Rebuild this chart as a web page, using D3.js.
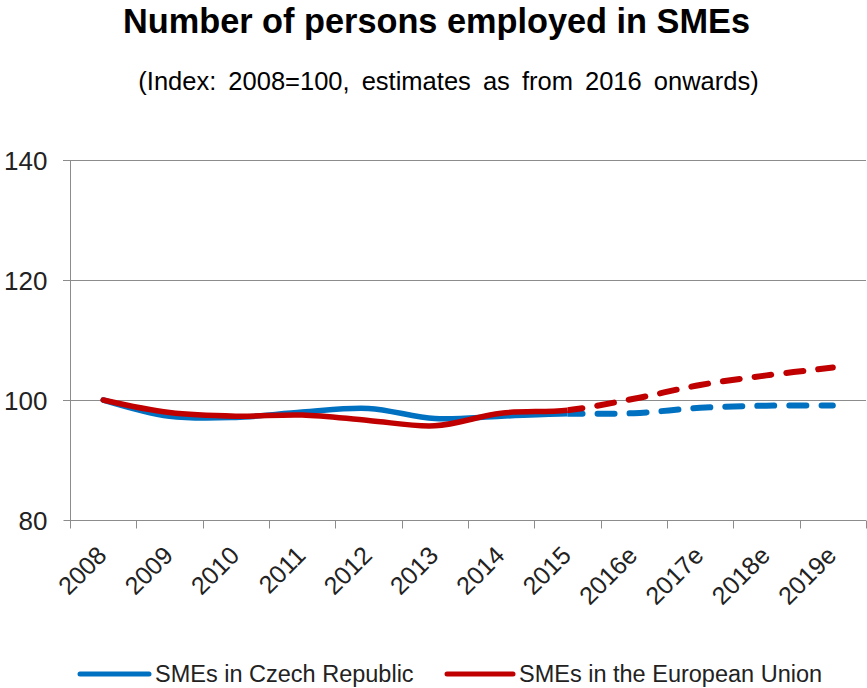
<!DOCTYPE html>
<html>
<head>
<meta charset="utf-8">
<script src="https://cdn.jsdelivr.net/npm/d3@7"></script>
<style>
  html, body { margin: 0; padding: 0; background: #fff; }
  svg { display: block; font-family: "Liberation Sans", Arial, sans-serif; }
</style>
</head>
<body>
<svg id="chart" width="867" height="688"></svg>
<script>
const categories = ["2008","2009","2010","2011","2012","2013","2014","2015","2016e","2017e","2018e","2019e"];
const czechValues = [100, 97.3, 97.1, 98.0, 98.6, 96.9, 97.3, 97.7, 97.8, 98.7, 99.05, 99.1];
const euValues    = [100, 97.9, 97.3, 97.5, 96.6, 95.7, 97.8, 98.3, 100.2, 102.5, 104.1, 105.4];
const yTicks = [80, 100, 120, 140];
const seriesNames = ["SMEs in Czech Republic", "SMEs in the European Union"];
const seriesColors = ["#0070C0", "#C00000"];
const lastActual = "2015";

(function () {
const svg = d3.select("#chart");
const pLeft = 70, pRight = 866, pTop = 160, pBottom = 520;

const x = d3.scaleBand().domain(categories).range([pLeft, pRight]).padding(0);
const y = d3.scaleLinear().domain([80, 140]).range([pBottom, pTop]);
const cx = c => x(c) + x.bandwidth() / 2;

// Title
svg.append("text").attr("x", 436.5).attr("y", 33).attr("text-anchor", "middle")
  .attr("font-size", 34.3).attr("font-weight", "bold").attr("fill", "#000")
  .text("Number of persons employed in SMEs");
svg.append("text").attr("x", 448.5).attr("y", 90).attr("text-anchor", "middle")
  .attr("font-size", 25.5).attr("fill", "#000").attr("word-spacing", 5)
  .text("(Index: 2008=100, estimates as from 2016 onwards)");

// Gridlines
const grid = svg.append("g");
yTicks.filter(t => t !== 80).forEach(t => {
  grid.append("line").attr("x1", pLeft - 7).attr("x2", pRight).attr("y1", y(t) + 0.5).attr("y2", y(t) + 0.5)
    .attr("stroke", "#8c8c8c").attr("stroke-width", 1);
});

// Y axis
const yAxis = d3.axisLeft(y).tickValues(yTicks).tickSize(7).tickPadding(0).tickFormat(d3.format("d"));
const gy = svg.append("g").attr("transform", `translate(${pLeft + 0.5},0)`).call(yAxis);
gy.select(".domain").attr("d", `M0,${pTop}V${pBottom + 8}`).attr("stroke", "#8c8c8c");
gy.selectAll(".tick line").attr("stroke", "#8c8c8c");
gy.selectAll(".tick text").attr("font-size", 26).attr("fill", "#222")
  .attr("x", -23).attr("dy", "0.36em").attr("font-family", "Liberation Sans, Arial, sans-serif");

// X axis (ticks at band boundaries)
const gx = svg.append("g").attr("transform", `translate(0,${pBottom + 0.5})`);
gx.append("line").attr("x1", pLeft).attr("x2", pRight).attr("stroke", "#8c8c8c");
const bounds = categories.map(c => x(c)).concat([pRight]);
gx.selectAll("line.tk").data(bounds).join("line").attr("class", "tk")
  .attr("x1", d => Math.round(d) + 0.5).attr("x2", d => Math.round(d) + 0.5)
  .attr("y1", 0).attr("y2", 8).attr("stroke", "#8c8c8c");
svg.append("g").selectAll("text").data(categories).join("text")
  .attr("transform", d => `translate(${cx(d) + 5},${pBottom + 37}) rotate(-45)`)
  .attr("text-anchor", "end").attr("font-size", 25).attr("fill", "#222")
  .text(d => d);

// Lines
const defs = svg.append("defs");
const splitX = cx(lastActual);
defs.append("clipPath").attr("id", "clipSolid").append("rect")
  .attr("x", 0).attr("y", 0).attr("width", splitX).attr("height", 688);
defs.append("clipPath").attr("id", "clipDash").append("rect")
  .attr("x", splitX).attr("y", 0).attr("width", 867 - splitX).attr("height", 688);

const line = d3.line().x((d, i) => cx(categories[i])).y(d => y(d)).curve(d3.curveCardinal.tension(0));
const series = [czechValues, euValues];
series.forEach((vals, si) => {
  svg.append("path").attr("d", line(vals)).attr("fill", "none")
    .attr("stroke", seriesColors[si]).attr("stroke-width", 5.5).attr("stroke-linecap", "round")
    .attr("clip-path", "url(#clipSolid)");
  const dp = svg.append("path").attr("d", line(vals)).attr("fill", "none")
    .attr("stroke", seriesColors[si]).attr("stroke-width", 6).attr("stroke-linecap", "round")
    .attr("stroke-dasharray", "17 15")
    .attr("clip-path", "url(#clipDash)");
  const p = dp.node();
  const total = p.getTotalLength();
  let lo = 0, hi = total;
  for (let k = 0; k < 40; k++) { const m = (lo + hi) / 2; if (p.getPointAtLength(m).x < splitX) lo = m; else hi = m; }
  dp.attr("stroke-dashoffset", -lo + 2);
});

// Legend
const legend = svg.append("g");
const legendItems = [{x1: 80, x2: 149, tx: 155}, {x1: 447, x2: 513, tx: 519}];
seriesNames.forEach((name, i) => {
  legend.append("line").attr("x1", legendItems[i].x1).attr("x2", legendItems[i].x2)
    .attr("y1", 674).attr("y2", 674).attr("stroke", seriesColors[i]).attr("stroke-width", 5)
    .attr("stroke-linecap", "round");
  legend.append("text").attr("x", legendItems[i].tx).attr("y", 682).attr("font-size", 23.5)
    .attr("fill", "#222").text(name);
});
})();
</script>
</body>
</html>
